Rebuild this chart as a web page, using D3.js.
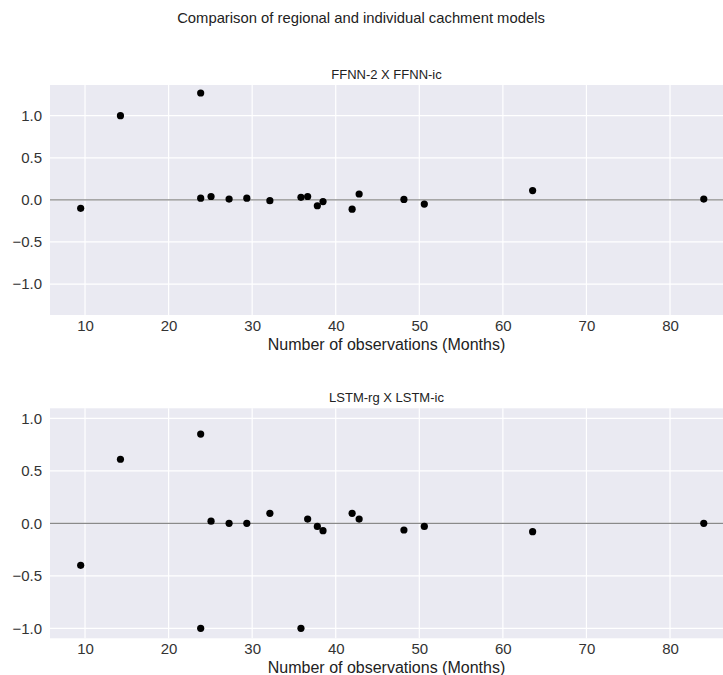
<!DOCTYPE html>
<html>
<head>
<meta charset="utf-8">
<script src="https://cdn.jsdelivr.net/npm/d3@7"></script>
<style>
  html, body { margin: 0; padding: 0; background: #fff; }
  svg { display: block; font-family: "Liberation Sans", Arial, sans-serif; }
</style>
</head>
<body>
<svg id="chart" width="723" height="675"></svg>
<script>
// ---- Data ----
const months = [9.48, 14.24, 23.84, 23.84, 25.08, 27.24, 29.36, 32.12, 35.84, 36.64, 37.8, 38.48, 41.96, 42.8, 48.16, 50.6, 63.56, 84.04];
const ffnnDiff = [-0.10, 1.00, 1.27, 0.02, 0.04, 0.01, 0.02, -0.01, 0.03, 0.04, -0.07, -0.02, -0.11, 0.07, 0.005, -0.05, 0.11, 0.01];
const lstmDiff = [-0.40, 0.61, 0.85, -1.00, 0.02, 0.00, 0.00, 0.095, -1.00, 0.04, -0.03, -0.07, 0.095, 0.04, -0.064, -0.03, -0.08, 0.00];
const xTicks = [10, 20, 30, 40, 50, 60, 70, 80];
const yTicks = [-1.0, -0.5, 0.0, 0.5, 1.0];
const mainTitle = "Comparison of regional and individual cachment models";
const panelTitles = ["FFNN-2 X FFNN-ic", "LSTM-rg X LSTM-ic"];
const xLabel = "Number of observations (Months)";

const svg = d3.select("#chart");

svg.append("text")
  .attr("x", 361).attr("y", 23)
  .attr("text-anchor", "middle")
  .attr("font-size", 14.8).attr("fill", "#222")
  .text(mainTitle);

const panels = [
  { ys: ffnnDiff, top: 85, bottom: 315, yDom: [-1.368, 1.365], title: panelTitles[0] },
  { ys: lstmDiff, top: 408.3, bottom: 638.3, yDom: [-1.095, 1.095], title: panelTitles[1] }
];

const left = 50, right = 723;

panels.forEach(p => {
  const x = d3.scaleLinear().domain([5.81, 86.34]).range([left, right]);
  const y = d3.scaleLinear().domain(p.yDom).range([p.bottom, p.top]);
  const g = svg.append("g");

  g.append("rect")
    .attr("x", left).attr("y", p.top)
    .attr("width", right - left).attr("height", p.bottom - p.top)
    .attr("fill", "#eaeaf2");

  // grid
  g.selectAll(".vg").data(xTicks).enter().append("line")
    .attr("x1", d => x(d)).attr("x2", d => x(d))
    .attr("y1", p.top).attr("y2", p.bottom)
    .attr("stroke", "#fff").attr("stroke-width", 1.2);
  g.selectAll(".hg").data(yTicks).enter().append("line")
    .attr("x1", left).attr("x2", right)
    .attr("y1", d => y(d)).attr("y2", d => y(d))
    .attr("stroke", "#fff").attr("stroke-width", 1.2);

  // zero line
  g.append("line")
    .attr("x1", left).attr("x2", right)
    .attr("y1", y(0)).attr("y2", y(0))
    .attr("stroke", "#8a8a8a").attr("stroke-width", 1.3);

  // axes (labels only)
  const xAxis = d3.axisBottom(x).tickValues(xTicks).tickSize(0).tickPadding(5).tickFormat(d3.format("d"));
  const xa = g.append("g").attr("transform", `translate(0,${p.bottom})`).call(xAxis);
  xa.select(".domain").remove();
  xa.selectAll("text").attr("font-size", 15).attr("fill", "#333").attr("font-family", "Liberation Sans, Arial, sans-serif");

  const yAxis = d3.axisLeft(y).tickValues(yTicks).tickSize(0).tickPadding(8).tickFormat(d3.format(".1f"));
  const ya = g.append("g").attr("transform", `translate(${left},0)`).call(yAxis);
  ya.select(".domain").remove();
  ya.selectAll("text").attr("font-size", 15).attr("fill", "#333").attr("font-family", "Liberation Sans, Arial, sans-serif")
    .text(d => d3.format(".1f")(d).replace("-", "\u2212"));

  // title
  g.append("text")
    .attr("x", (left + right) / 2).attr("y", p.top - 6)
    .attr("text-anchor", "middle").attr("font-size", 13).attr("fill", "#222")
    .text(p.title);

  // x label
  g.append("text")
    .attr("x", (left + right) / 2).attr("y", p.bottom + 35)
    .attr("text-anchor", "middle").attr("font-size", 16).attr("fill", "#222")
    .text(xLabel);

  // points
  g.selectAll(".pt").data(months.map((v, i) => [v, p.ys[i]])).enter().append("circle")
    .attr("cx", d => x(d[0])).attr("cy", d => y(d[1]))
    .attr("r", 3.6).attr("fill", "#000");
});
</script>
</body>
</html>
